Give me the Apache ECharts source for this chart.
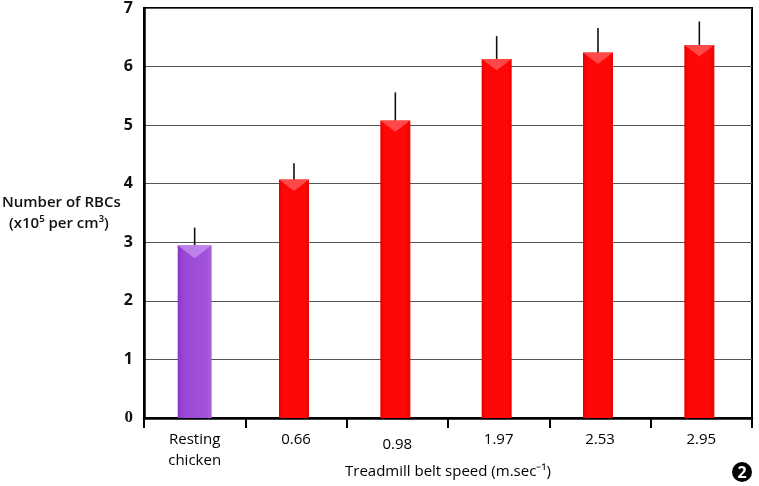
<!DOCTYPE html>
<html>
<head>
<meta charset="utf-8">
<script src="https://cdn.jsdelivr.net/npm/echarts@6/dist/echarts.min.js"></script>
<style>html,body{margin:0;padding:0;background:#fff}#c{width:759px;height:486px}</style>
</head>
<body>
<div id="c"></div>
<script>
const categories = ['Resting\nchicken', '0.66', '0.98', '1.97', '2.53', '2.95'];
const rbcMeans = [2.95, 4.07, 5.08, 6.13, 6.24, 6.37];
const rbcErrors = [0.30, 0.28, 0.48, 0.39, 0.42, 0.40];
const yTicks = [0, 1, 2, 3, 4, 5, 6, 7];

const RED_W = 30, PURPLE_W = 34;
const redData = rbcMeans.map((v, i) => i === 0 ? '-' : v);
const purpleData = rbcMeans.map((v, i) => i === 0 ? v : '-');

const redGrad = new echarts.graphic.LinearGradient(0, 0, 1, 0, [
  {offset: 0, color: '#e80000'}, {offset: 0.15, color: '#ff0707'},
  {offset: 0.85, color: '#ff0707'}, {offset: 1, color: '#ee0000'}]);
const purpleGrad = new echarts.graphic.LinearGradient(0, 0, 1, 0, [
  {offset: 0, color: '#8a36c8'}, {offset: 0.2, color: '#9a48d6'},
  {offset: 0.85, color: '#a152da'}, {offset: 1, color: '#a862dd'}]);

const chart = echarts.init(document.getElementById('c'), null, {renderer: 'canvas'});
chart.setOption({
  animation: false,
  backgroundColor: '#fff',
  grid: {left: 144, right: 7, top: 8, bottom: 68, containLabel: false, outerBoundsMode: 'none',
    show: true, borderColor: '#000', borderWidth: 2, backgroundColor: 'transparent'},
  xAxis: {
    type: 'category', data: categories,
    axisLine: {lineStyle: {color: '#000', width: 2.5}},
    axisTick: {show: true, length: 10, lineStyle: {color: '#000', width: 2}},
    axisLabel: {
      color: '#000', fontSize: 15, fontFamily: 'Open Sans', fontWeight: 500, lineHeight: 21, margin: 11,
      formatter: (v) => v === '0.98' ? '{low|' + v + '}' : v,
      rich: {low: {fontSize: 15, fontFamily: 'Open Sans', fontWeight: 500, color: '#000', padding: [10, 0, 0, 0]}}
    },
    name: 'Treadmill belt speed (m.sec\u207B\u00B9)', nameLocation: 'middle', nameGap: 46, nameMoveOverlap: false,
    nameTextStyle: {color: '#000', fontSize: 15, fontFamily: 'Open Sans', fontWeight: 500, verticalAlign: 'top'}
  },
  yAxis: {
    type: 'value', min: yTicks[0], max: yTicks[yTicks.length - 1], interval: 1,
    axisLine: {show: true, lineStyle: {color: '#000', width: 2.5}},
    axisTick: {show: false},
    splitLine: {lineStyle: {color: '#555', width: 1}},
    axisLabel: {
      color: '#111', fontSize: 16, fontWeight: 'bold', fontFamily: 'Open Sans', margin: 11,
      formatter: (v) => v === 0 ? '{zero|0}' : String(v),
      rich: {zero: {fontFamily: 'Liberation Serif', fontSize: 17, fontWeight: 'bold', color: '#111'}}
    }
  },
  graphic: [
    {type: 'text', left: 2, top: 195, style: {text: 'Number of RBCs', fontSize: 15, fontFamily: 'Open Sans', fontWeight: 600, fill: '#111'}},
    {type: 'text', left: 9, top: 216, style: {text: '(x10\u2075 per cm\u00B3)', fontSize: 15, fontFamily: 'Open Sans', fontWeight: 600, fill: '#111'}},
    {type: 'circle', shape: {cx: 742, cy: 472, r: 10}, style: {fill: '#000'}},
    {type: 'text', x: 742, y: 473, style: {text: '2', fontSize: 16, fontWeight: 'bold', fontFamily: 'Open Sans', fill: '#fff', align: 'center', verticalAlign: 'middle'}}
  ],
  series: [
    {type: 'bar', data: redData, barWidth: RED_W, barGap: '-100%', itemStyle: {color: redGrad}},
    {type: 'bar', data: purpleData, barWidth: PURPLE_W, barGap: '-100%', itemStyle: {color: purpleGrad}},
    {
      type: 'custom', z: 5,
      data: rbcMeans.map((v, i) => [i, v, rbcErrors[i]]),
      renderItem: function (params, api) {
        const i = api.value(0), v = api.value(1), e = api.value(2);
        const w = i === 0 ? PURPLE_W : RED_W;
        const dx = i === 0 ? 0 : (RED_W - PURPLE_W) / 2;
        const top = api.coord([i, v]);
        const errTop = api.coord([i, v + e]);
        const cx = top[0] + dx;
        const bevel = i === 0 ? 'rgba(200,150,240,0.75)' : 'rgba(255,90,90,0.8)';
        return {type: 'group', children: [
          {type: 'polygon', shape: {points: [[cx - w / 2, top[1]], [cx + w / 2, top[1]], [cx, top[1] + w * 0.38]]}, style: {fill: bevel}},
          {type: 'line', shape: {x1: cx, y1: top[1], x2: cx, y2: errTop[1]}, style: {stroke: '#111', lineWidth: 1.6}}
        ]};
      }
    }
  ]
});
</script>
</body>
</html>
